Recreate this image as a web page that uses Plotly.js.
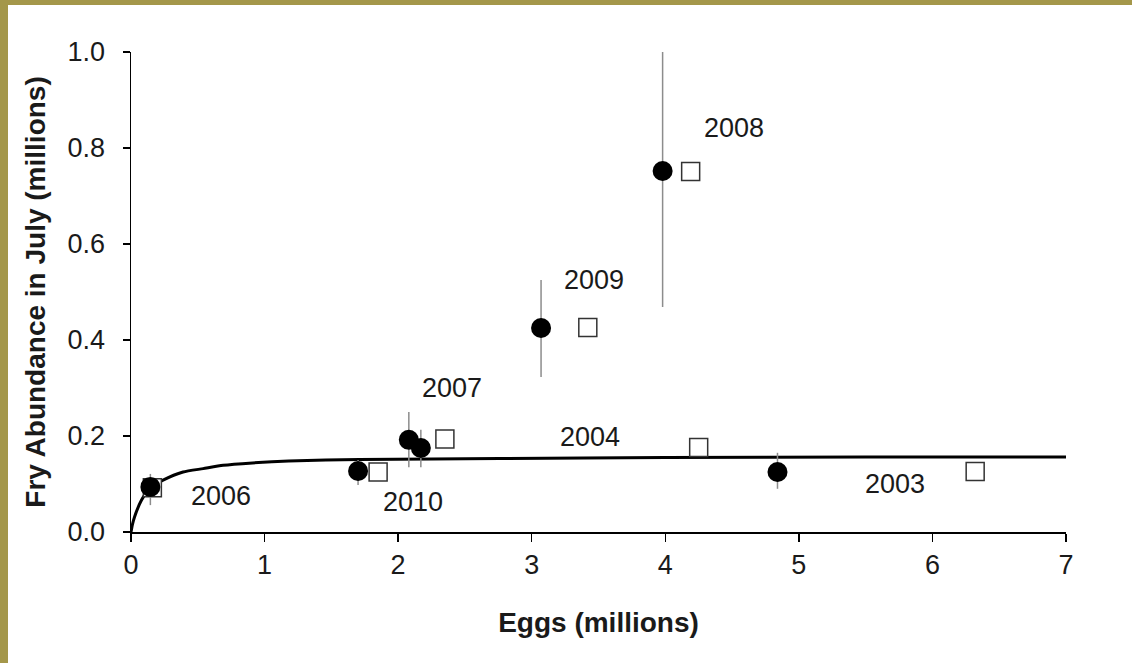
<!DOCTYPE html>
<html>
<head>
<meta charset="utf-8">
<script src="https://cdn.plot.ly/plotly-3.0.1.min.js"></script>
<style>
  html, body { margin: 0; padding: 0; background: #fff; }
  #chart { position: absolute; left: 0; top: 0; width: 1132px; height: 663px; }
  #bl { position: absolute; left: 0; top: 0; width: 8px; height: 663px; background: #A4974A; }
  #bt { position: absolute; left: 0; top: 0; width: 1132px; height: 5px; background: #A4974A; }
</style>
</head>
<body>
<div id="chart"></div>
<div id="bl"></div>
<div id="bt"></div>
<script>
// Observed fry abundance (filled circles) with error bars
const circleEggs  = [0.145, 1.70, 2.08, 2.17, 3.07, 3.98, 4.84];
const circleFry   = [0.094, 0.127, 0.192, 0.175, 0.425, 0.752, 0.125];
const circleErrUp = [0.027, 0.023, 0.058, 0.038, 0.100, 0.283, 0.040];
const circleErrDn = [0.038, 0.029, 0.057, 0.040, 0.102, 0.283, 0.035];

// Open squares
const squareEggs = [0.16, 1.85, 2.35, 3.42, 4.19, 4.25, 6.32];
const squareFry  = [0.092, 0.125, 0.194, 0.426, 0.751, 0.176, 0.126];

// Fitted curve
const curveEggs = [0, 0.01, 0.027, 0.078, 0.14, 0.24, 0.39, 0.54, 0.69, 0.91, 1.18, 1.71, 2.76, 4.0, 5.5, 7.0];
const curveFry  = [0, 0.015, 0.032, 0.066, 0.091, 0.108, 0.125, 0.132, 0.139, 0.144, 0.148, 0.151, 0.153, 0.155, 0.156, 0.156];

// Year labels
const yearLabels = ['2008', '2009', '2007', '2004', '2006', '2010', '2003'];
const labelEggs  = [4.515, 3.47, 2.40, 3.436, 0.675, 2.11, 5.72];
const labelFry   = [0.842, 0.525, 0.300, 0.198, 0.075, 0.0625, 0.101];

const xTicks = [0, 1, 2, 3, 4, 5, 6, 7];
const yTicks = [0.0, 0.2, 0.4, 0.6, 0.8, 1.0];

const FONT = '"Liberation Sans", Arial, sans-serif';
const TXT = '#1a1a1a';

const traces = [
  {
    x: curveEggs, y: curveFry, type: 'scatter', mode: 'lines',
    line: { color: '#000', width: 3, shape: 'spline', smoothing: 0.6 },
    hoverinfo: 'skip', showlegend: false
  },
  {
    x: squareEggs, y: squareFry, type: 'scatter', mode: 'markers',
    marker: { symbol: 'square', size: 18, color: '#fff', line: { color: '#333', width: 1.5 } },
    showlegend: false
  },
  {
    x: circleEggs, y: circleFry, type: 'scatter', mode: 'markers',
    marker: { symbol: 'circle', size: 20, color: '#000' },
    error_y: { type: 'data', symmetric: false, array: circleErrUp, arrayminus: circleErrDn,
               color: '#8c8c8c', thickness: 1.5, width: 0 },
    showlegend: false
  }
];

const annotations = yearLabels.map((t, i) => ({
  x: labelEggs[i], y: labelFry[i], xref: 'x', yref: 'y', text: t,
  showarrow: false, font: { family: FONT, size: 27, color: TXT }
}));

const layout = {
  width: 1132, height: 663,
  margin: { l: 131, r: 66, t: 52, b: 131 },
  paper_bgcolor: '#fff', plot_bgcolor: '#fff',
  font: { family: FONT, color: TXT },
  showlegend: false,
  xaxis: {
    range: [0, 7], tickvals: xTicks, ticktext: xTicks.map(String),
    showgrid: false, zeroline: false, showline: true, linecolor: '#000', linewidth: 1.5,
    ticks: 'outside', ticklen: 8, tickwidth: 1.5, tickcolor: '#000',
    tickfont: { family: FONT, size: 27, color: TXT },
    title: { text: '<b>Eggs (millions)</b>', font: { family: FONT, size: 28, color: TXT }, standoff: 33 },
    automargin: false, fixedrange: true
  },
  yaxis: {
    range: [0, 1], tickvals: yTicks, ticktext: yTicks.map(v => v.toFixed(1)),
    showgrid: false, zeroline: false, showline: true, linecolor: '#000', linewidth: 1.5,
    ticks: 'outside', ticklen: 7, tickwidth: 1.5, tickcolor: '#000',
    tickfont: { family: FONT, size: 27, color: TXT },
    ticklabelstandoff: 12,
    title: { text: '<b>Fry Abundance in July (millions)</b>', font: { family: FONT, size: 28, color: TXT }, standoff: 14 },
    automargin: false, fixedrange: true
  },
  annotations: annotations
};

Plotly.newPlot('chart', traces, layout, { staticPlot: true, displayModeBar: false });
</script>
</body>
</html>
